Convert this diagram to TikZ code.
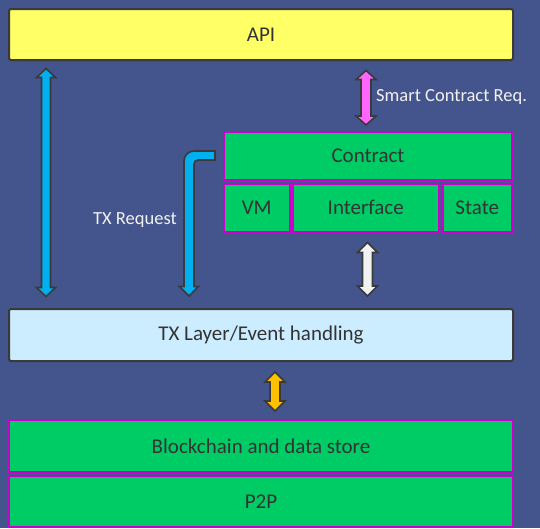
\documentclass[tikz,border=0pt]{standalone}
\usepackage{fontspec}
\setmainfont{Carlito}
\definecolor{bg}{HTML}{44548C}
\definecolor{dk}{HTML}{3A3A3A}
\definecolor{txt}{HTML}{333333}
\definecolor{yel}{HTML}{FFFF66}
\definecolor{grn}{HTML}{00CC66}
\definecolor{mag}{HTML}{CC00CC}
\definecolor{lbl}{HTML}{CCECFF}
\definecolor{blu}{HTML}{00B0F0}
\definecolor{pnk}{HTML}{FF66FF}
\definecolor{wht}{HTML}{F2F2F2}
\definecolor{org}{HTML}{FFC000}
\newcommand{\dblarr}[7]{% color, x, ytop, ybot, shaft half, head half, head len
  \filldraw[arrowline, fill=#1] (#2,#3) -- (#2+#6,#3+#7) -- (#2+#5,#3+#7) -- (#2+#5,#4-#7) -- (#2+#6,#4-#7) -- (#2,#4) -- (#2-#6,#4-#7) -- (#2-#5,#4-#7) -- (#2-#5,#3+#7) -- (#2-#6,#3+#7) -- cycle;}
\begin{document}
\begin{tikzpicture}[x=1pt,y=-1pt,
  darkbox/.style={draw=dk, line width=2pt, rounded corners=2pt, text=txt, font=\fontsize{21}{24}\selectfont, inner sep=0pt},
  magbox/.style={draw=mag, line width=2pt, fill=grn, text=txt, font=\fontsize{21}{24}\selectfont, inner sep=0pt},
  arrowline/.style={draw=dk, line width=1.6pt, line join=miter},
  lab/.style={text=wht, font=\fontsize{18.5}{22}\selectfont, inner sep=0pt}]
\fill[bg] (0,0) rectangle (540,528);
\useasboundingbox (0,0) rectangle (540,528);
% boxes
\node[darkbox, fill=yel, minimum width=504pt, minimum height=51pt] (api) at (261,34.5) {API};
\node[magbox, minimum width=288pt, minimum height=48pt] (contract) at (368,156) {Contract};
\node[magbox, minimum width=65.5pt, minimum height=48.5pt] (vm) at (256.75,207.75) {VM};
\node[magbox, minimum width=146.5pt, minimum height=48.5pt] (iface) at (365.75,207.75) {Interface};
\node[magbox, minimum width=69.5pt, minimum height=48.5pt] (state) at (477.25,207.75) {State};
\node[darkbox, fill=lbl, minimum width=504pt, minimum height=52pt] (tx) at (261,335) {TX Layer/Event handling};
\node[magbox, minimum width=504pt, minimum height=52pt] (bc) at (261,446) {Blockchain and data store};
\node[magbox, minimum width=504pt, minimum height=51pt] (p2p) at (261,501.25) {P2P};
% arrows
\dblarr{blu}{46}{68.5}{296.5}{4.5}{9.5}{9}
\dblarr{pnk}{366}{70.5}{125}{5}{10}{9}
\dblarr{wht}{367.5}{242.5}{296}{5}{10}{10}
\dblarr{org}{275}{372}{411}{5}{10}{10}
% bent TX request arrow
\filldraw[arrowline, fill=blu] (215,151) -- (194,151) arc[start angle=270, end angle=180, radius=10] -- (184,286.5) -- (179.5,286.5) -- (189,296) -- (198.5,286.5) -- (194,286.5) -- (194,164) arc[start angle=180, end angle=270, radius=4] -- (215,160) -- cycle;
% labels
\node[lab, anchor=west] (scr) at (376,97) {Smart Contract Req.};
\node[lab] (txr) at (135,220) {TX Request};
\end{tikzpicture}
\end{document}
